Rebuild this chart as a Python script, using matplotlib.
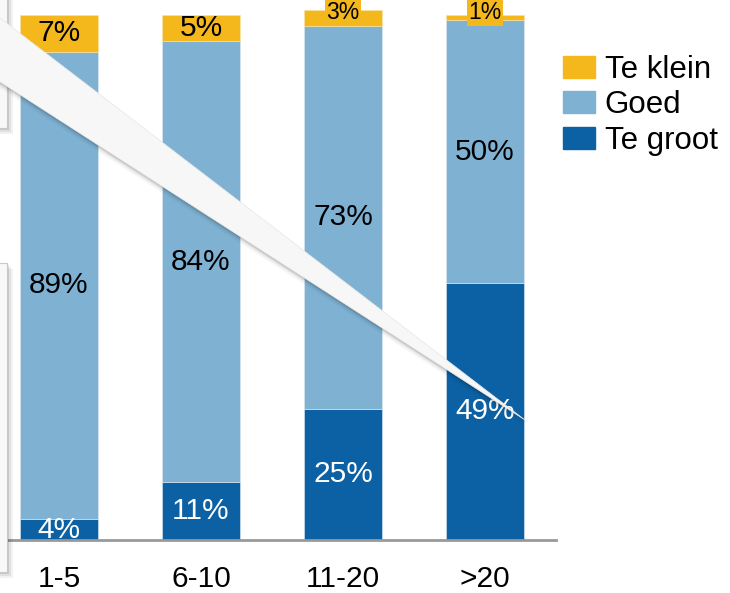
import matplotlib
matplotlib.use("Agg")
import matplotlib.pyplot as plt
from matplotlib.patches import Polygon, Rectangle, Patch

plt.rcParams['font.family'] = ['Liberation Sans', 'DejaVu Sans']

categories = ["1-5", "6-10", "11-20", ">20"]
te_groot = [4, 11, 25, 49]
goed = [89, 84, 73, 50]
te_klein = [7, 5, 3, 1]
series_names = ["Te klein", "Goed", "Te groot"]

c_klein = "#F4B81D"
c_goed = "#7FB1D3"
c_groot = "#0C61A4"

W, H = 730, 593
fig = plt.figure(figsize=(W / 100, H / 100), dpi=100)
ax = fig.add_axes([0, 53 / H, 556 / W, 1 - 53 / H])

x = list(range(len(categories)))
bw = 78 / 142
ax.bar(x, te_groot, bw, color=c_groot, edgecolor="#dfe9f2", linewidth=0.4)
bot2 = te_groot
ax.bar(x, goed, bw, bottom=bot2, color=c_goed, edgecolor="#dfe9f2", linewidth=0.4)
bot3 = [a + b for a, b in zip(te_groot, goed)]
ax.bar(x, te_klein, bw, bottom=bot3, color=c_klein, edgecolor="#f7e3a8", linewidth=0.4)

for i in x:
    ax.text(i, te_groot[i] / 2, f"{te_groot[i]}%", ha="center", va="center",
            color="white", fontsize=21.5)
    ax.text(i, te_groot[i] + goed[i] / 2, f"{goed[i]}%", ha="center", va="center",
            color="black", fontsize=21.5)
    if te_klein[i] >= 5:
        ax.text(i, bot3[i] + te_klein[i] / 2, f"{te_klein[i]}%", ha="center",
                va="center", color="black", fontsize=21.5)
    else:
        ax.text(i, bot3[i] + te_klein[i] / 2 + 0.9, f"{te_klein[i]}%", ha="center",
                va="center", color="black", fontsize=16.5,
                bbox=dict(boxstyle="square,pad=0.05", facecolor=c_klein, edgecolor="none"))

ax.set_xlim(-59 / 142, (556 - 59) / 142)
ax.set_ylim(0, 540 / 5.25)
ax.set_xticks(x)
ax.set_xticklabels(categories, fontsize=21.5)
ax.tick_params(axis="x", length=0, pad=18)
ax.set_yticks([])
for s in ["top", "right", "left"]:
    ax.spines[s].set_visible(False)
ax.spines["bottom"].set_color("#999999")
ax.spines["bottom"].set_linewidth(2)

handles = [Patch(color=c_klein), Patch(color=c_goed), Patch(color=c_groot)]
fig.legend(handles, series_names, loc="upper left",
           bbox_to_anchor=(563 / W, 1 - 55 / H), bbox_transform=fig.transFigure,
           frameon=False, fontsize=22.5, handlelength=1.02, handleheight=0.7,
           handletextpad=0.32, labelspacing=0.17, borderpad=0, borderaxespad=0)

def fp(px, py):
    return (px / W, 1 - py / H)

# left panels with shadow
for (y0, y1) in [(-10, 128), (263, 572)]:
    for k, a in [(6, 0.05), (4, 0.07), (2, 0.1)]:
        fig.patches.append(Rectangle(fp(-10, y1 + k), (17 + k) / W, (y1 - y0) / H,
                                     transform=fig.transFigure, facecolor="#000000",
                                     alpha=a, edgecolor="none", zorder=5))
    fig.patches.append(Rectangle(fp(-10, y1), 17 / W, (y1 - y0) / H,
                                 transform=fig.transFigure, facecolor="#f8f8f8",
                                 edgecolor="#c8c8c8", linewidth=0.8, zorder=6))

# callout wedge with soft shadow
wedge = [(-20, 2.7), (525, 420), (-20, 69)]
for k, a in [(8, 0.04), (5, 0.06), (3, 0.08), (1.5, 0.1)]:
    pts = [fp(px + k * 0.3, py + k) for px, py in wedge]
    fig.patches.append(Polygon(pts, closed=True, transform=fig.transFigure,
                               facecolor="#000000", alpha=a, edgecolor="none", zorder=7))
fig.patches.append(Polygon([fp(px, py) for px, py in wedge], closed=True,
                           transform=fig.transFigure, facecolor="#f7f7f7",
                           edgecolor="#e6e6e6", linewidth=0.5, zorder=8))

fig.savefig("out.png", dpi=100)
